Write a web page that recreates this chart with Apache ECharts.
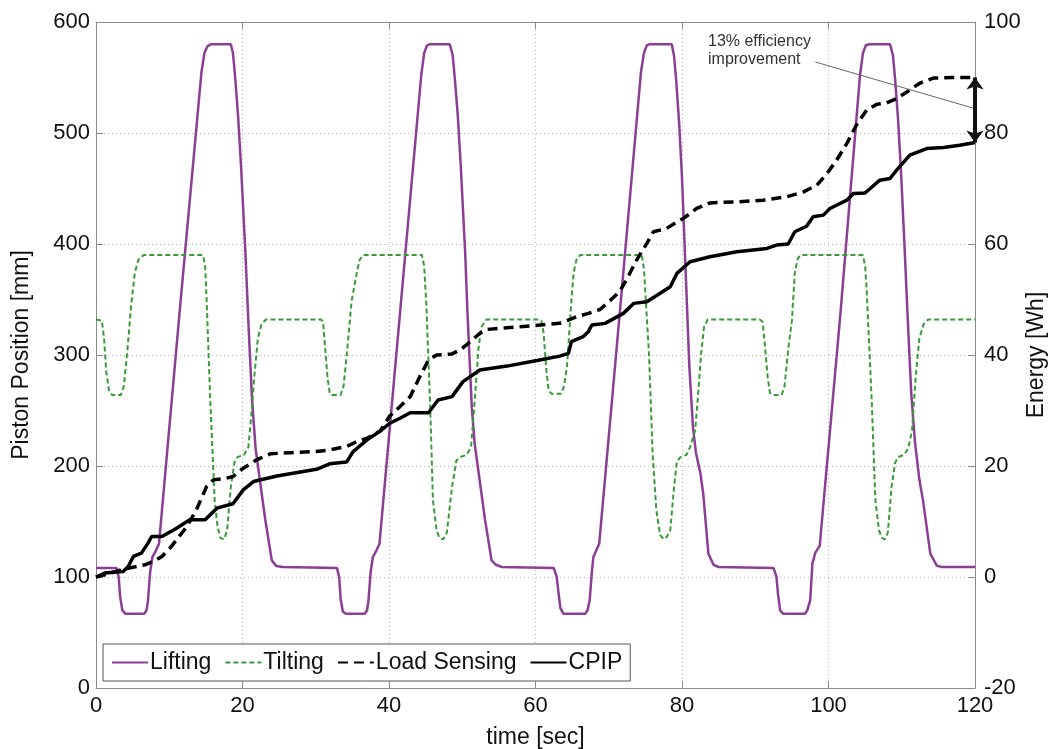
<!DOCTYPE html>
<html>
<head>
<meta charset="utf-8">
<script src="https://cdn.jsdelivr.net/npm/echarts@6/dist/echarts.min.js"></script>
<style>
html,body{margin:0;padding:0;background:#fff;}
#chart{width:1050px;height:749px;}
</style>
</head>
<body>
<div id="chart"></div>
<script>
// ---- Data (time [sec], value) ----
const xTicks = [0, 20, 40, 60, 80, 100, 120];
const leftTicks = [0, 100, 200, 300, 400, 500, 600];
const rightTicks = [-20, 0, 20, 40, 60, 80, 100];

// Lifting piston position [mm]
const lifting = [
  [0,108],[2.8,108],[3.1,100],[3.3,82],[3.6,70],[4.0,67],[6.6,67],[6.9,70],[7.1,79],[7.4,105],[7.7,118],[8.2,124],[8.6,130],
  [11.5,345],[14.4,555],[14.8,572],[15.2,578],[15.7,580],[18.4,580],[18.7,572],[19.0,550],
  [19.4,515],[19.8,470],[20.4,392],[20.8,330],[21.3,260],[21.8,215],[22.4,186],[23.1,152],[24.0,115],[24.6,110],[25.5,109],
  [32.9,108],[33.2,100],[33.4,80],[33.7,69],[34.1,67],[36.7,67],[37.0,70],[37.2,79],[37.5,105],[37.8,118],[38.3,124],[38.7,130],
  [41.6,345],[44.4,552],[44.8,572],[45.2,579],[45.6,580],[48.3,580],[48.7,570],[49.0,548],
  [49.4,515],[49.8,470],[50.4,392],[50.7,340],[51.3,253],[51.7,220],[52.4,186],[53.1,152],[54.0,115],[54.6,111],[55.4,109],
  [62.5,108],[62.9,100],[63.1,88],[63.4,72],[63.8,67],[66.8,67],[67.1,70],[67.4,79],[67.7,105],[67.9,118],[68.3,124],[68.7,130],
  [71.6,345],[74.4,555],[74.8,572],[75.2,579],[75.6,580],[78.6,580],[78.9,570],[79.2,548],
  [79.6,510],[80.0,460],[80.5,375],[81.0,290],[81.5,235],[81.9,212],[82.5,194],[82.9,175],[83.6,121],[84.3,111],[85.0,109],
  [92.5,108],[92.9,100],[93.1,85],[93.4,70],[93.8,67],[96.8,67],[97.1,70],[97.5,79],[97.8,112],[98.2,122],[98.8,128],
  [101.6,335],[104.3,552],[104.7,572],[105.1,579],[105.6,580],[108.4,580],
  [108.8,570],[109.1,548],[109.5,512],[109.9,465],[110.4,395],[110.8,335],[111.3,265],[111.8,222],[112.4,188],[112.9,169],
  [113.9,121],[114.8,110],[115.5,109],[120,109]
];

// Tilting piston position [mm]
const tilting = [
  [0,332],[0.8,331],[1.1,315],[1.4,285],[1.8,267],[2.2,264],[3.4,264],[3.8,272],[4.3,305],[4.8,345],[5.3,374],[5.8,386],[6.5,390],
  [14.6,390],[14.9,380],[15.1,350],[15.6,259],[16.2,169],[16.6,145],[17.0,135],[17.5,134],[17.9,142],[18.4,181],[18.9,203],
  [19.3,208],[20.2,210],[20.8,217],[21.2,245],[21.6,280],[22.1,315],[22.6,328],[23.2,332],
  [30.7,332],[31.0,330],[31.3,305],[31.6,280],[31.9,266],[32.2,264],[33.4,264],[33.8,272],[34.3,305],[34.9,349],[35.6,374],
  [36.0,386],[36.5,390],[44.5,390],[44.8,380],[45.1,345],[45.6,259],[46.0,169],[46.5,142],[46.9,135],[47.4,134],[47.9,140],
  [48.6,181],[49.2,205],[49.7,208],[50.6,210],[51.2,217],[51.7,259],[52.2,305],[52.6,325],[53.3,332],
  [60.3,332],[60.8,331],[61.1,320],[61.5,285],[61.8,268],[62.2,265],[63.5,265],[63.9,272],[64.3,290],[64.9,349],[65.2,374],
  [65.6,386],[66.1,390],[74.5,390],[74.8,378],[75.1,345],[75.5,300],[76.0,210],[76.5,160],[77.0,138],[77.5,134],[77.9,136],
  [78.4,142],[78.9,180],[79.3,204],[79.8,208],[80.6,210],[81.1,217],[81.8,232],[82.2,265],[82.6,300],[83.0,325],[83.5,332],
  [90.6,332],[91.0,330],[91.3,310],[91.7,280],[92.0,266],[92.4,264],[93.6,264],[94.0,272],[94.5,305],[95.0,331],[95.4,374],
  [95.8,387],[96.2,390],[104.7,390],[105.0,380],[105.2,360],[105.4,331],[105.9,259],[106.4,169],[106.9,142],[107.3,135],
  [107.7,134],[108.1,140],[108.6,181],[109.1,203],[109.5,208],[110.3,210],[110.9,216],[111.4,232],[111.9,280],[112.4,315],
  [113.0,328],[113.6,332],[120,332]
];

// Load Sensing energy [Wh]
const loadSensing = [
  [0,0],[1.2,0.4],[3.7,1.4],[6.7,2.2],[7.8,2.8],[9.0,3.7],[10.1,5.2],[11.0,6.7],[12.4,9.1],[13.7,12.1],[15.1,16.3],[16.0,17.5],
  [17.8,17.8],[18.7,18.1],[20.1,19.6],[21.9,21.1],[23.8,22.2],[26.5,22.4],[30.1,22.6],[31.9,22.9],[34.2,23.5],[35.6,24.4],
  [37.0,25.0],[38.8,26.3],[40.1,29.0],[41.5,30.7],[42.9,32.5],[44.2,36.1],[45.4,39.1],[46.5,40.0],[48.6,40.2],[49.7,40.9],
  [51.1,42.4],[52.4,43.9],[53.3,44.6],[57.9,45.1],[63.3,45.7],[64.3,46.2],[65.6,46.9],[67.0,47.4],[68.8,48.2],[70.2,49.8],
  [71.5,51.5],[72.4,53.5],[73.8,57.1],[75.2,60.1],[76.1,62.2],[77.9,62.8],[79.7,64.3],[80.2,64.6],[82.0,66.4],[83.8,67.4],
  [87.5,67.6],[91.1,67.9],[94.3,68.5],[96.6,69.4],[98.4,70.6],[99.8,72.7],[101.1,75.1],[102.5,78.1],[103.8,81.4],[105.2,84.1],
  [106.6,85.2],[107.9,85.4],[109.3,86.2],[110.7,87.4],[112.5,89.0],[114.3,89.9],[117.0,90.0],[120,90.0]
];

// CPIP energy [Wh]
const cpip = [
  [0,0],[1.2,0.7],[3.7,1.0],[4.4,1.9],[5.1,3.7],[6.2,4.3],[7.1,6.1],[7.6,7.3],[9.0,7.3],[11.0,8.8],[12.8,10.3],[14.9,10.3],
  [16.5,12.4],[18.7,13.2],[20.1,15.7],[21.5,17.2],[24.7,18.2],[30.1,19.4],[31.9,20.4],[34.2,20.7],[35.1,22.6],[37.0,24.7],
  [38.8,26.3],[40.1,27.7],[41.5,28.6],[42.9,29.6],[45.4,29.6],[46.7,31.9],[48.6,32.5],[50.1,35.2],[52.4,37.3],[56.1,38.0],
  [60.2,39.0],[63.3,39.8],[64.5,40.3],[64.9,42.4],[66.5,43.3],[67.2,44.2],[67.7,45.4],[69.5,45.7],[72.0,47.5],[73.4,49.3],
  [75.2,49.6],[78.4,52.3],[79.3,54.7],[81.1,56.8],[83.8,57.7],[87.5,58.6],[91.6,59.2],[92.9,59.8],[94.5,60.0],[95.4,62.2],
  [97.0,63.2],[97.9,64.9],[99.3,65.2],[100.2,66.4],[102.5,67.9],[103.4,69.1],[105.0,69.2],[105.7,70.0],[107.0,71.5],
  [108.4,71.8],[109.3,73.3],[111.1,76.0],[113.4,77.2],[115.7,77.4],[117.9,77.8],[120,78.3]
];

// Annotation
const annotationText = "13% efficiency\nimprovement";
const arrowEnds = [[120, 90.0], [120, 78.3]];
const pointerLine = [[98.2, 92.8], [119.7, 84.5]];

// ---- Chart ----
const FONT = "Liberation Sans, Arial, sans-serif";
const chart = echarts.init(document.getElementById('chart'), null, {renderer: 'canvas'});
const axisGrey = '#8a8a8a';

const option = {
  backgroundColor: '#ffffff',
  animation: false,
  textStyle: {fontFamily: FONT},
  grid: {left: 96, right: 75, top: 22, bottom: 61, containLabel: false, outerBoundsMode: 'none'},
  legend: {
    data: ['Lifting', 'Tilting', 'Load Sensing', 'CPIP'],
    left: 103, top: 644,
    itemWidth: 36, itemHeight: 12, itemGap: 13,
    padding: [7, 8, 7, 8],
    borderColor: '#555', borderWidth: 1, backgroundColor: '#fff',
    itemStyle: {opacity: 0},
    textStyle: {fontSize: 23, color: '#111', fontFamily: FONT, padding: [0, 0, 0, -3]}
  },
  xAxis: [{
    type: 'value', min: xTicks[0], max: xTicks[xTicks.length - 1], interval: 20,
    name: 'time [sec]', nameLocation: 'middle', nameGap: 38, nameMoveOverlap: false,
    nameTextStyle: {fontSize: 23, color: '#111', fontFamily: FONT},
    axisLine: {show: true, onZero: false, lineStyle: {color: axisGrey, width: 1}},
    axisTick: {show: true, inside: true, length: 7, lineStyle: {color: axisGrey}},
    axisLabel: {fontSize: 22, color: '#111', margin: 7, fontFamily: FONT},
    splitLine: {show: true, lineStyle: {color: '#b5b5b5', type: [1, 3], width: 1}}
  }, {
    type: 'value', position: 'top', min: xTicks[0], max: xTicks[xTicks.length - 1], interval: 20,
    axisLine: {show: true, onZero: false, lineStyle: {color: axisGrey, width: 1}},
    axisTick: {show: true, inside: true, length: 7, lineStyle: {color: axisGrey}},
    axisLabel: {show: false}, splitLine: {show: false}
  }],
  yAxis: [{
    type: 'value', min: leftTicks[0], max: leftTicks[leftTicks.length - 1], interval: 100,
    name: 'Piston Position [mm]', nameLocation: 'middle', nameGap: 63,
    nameTextStyle: {fontSize: 23, color: '#111', fontFamily: FONT},
    axisLine: {show: true, onZero: false, lineStyle: {color: axisGrey, width: 1}},
    axisTick: {show: true, inside: true, length: 7, lineStyle: {color: axisGrey}},
    axisLabel: {fontSize: 22, color: '#111', margin: 6, fontFamily: FONT},
    splitLine: {show: true, lineStyle: {color: '#b5b5b5', type: [1, 3], width: 1}}
  }, {
    type: 'value', position: 'right', min: rightTicks[0], max: rightTicks[rightTicks.length - 1], interval: 20,
    name: 'Energy [Wh]', nameLocation: 'middle', nameGap: 50, nameMoveOverlap: false,
    nameTextStyle: {fontSize: 23, color: '#111', fontFamily: FONT},
    axisLine: {show: true, onZero: false, lineStyle: {color: axisGrey, width: 1}},
    axisTick: {show: true, inside: true, length: 7, lineStyle: {color: axisGrey}},
    axisLabel: {fontSize: 22, color: '#111', margin: 9, fontFamily: FONT},
    splitLine: {show: false}
  }],
  graphic: [{
    type: 'text', left: 708, top: 33, silent: true,
    style: {text: annotationText, font: '16px ' + FONT, fill: '#333', lineHeight: 18}
  }],
  series: [{
    name: 'Lifting', type: 'line', xAxisIndex: 0, yAxisIndex: 0, data: lifting,
    showSymbol: false, symbol: 'none', smooth: false,
    lineStyle: {color: '#8c3d96', width: 2.5}, itemStyle: {color: '#8c3d96'}
  }, {
    name: 'Tilting', type: 'line', xAxisIndex: 0, yAxisIndex: 0, data: tilting,
    showSymbol: false, symbol: 'none',
    lineStyle: {color: '#3a9a3a', width: 2, type: [5, 3]}, itemStyle: {color: '#3a9a3a'}
  }, {
    name: 'Load Sensing', type: 'line', xAxisIndex: 0, yAxisIndex: 1, data: loadSensing,
    showSymbol: false, symbol: 'none',
    lineStyle: {color: '#000', width: 3.5, type: [10, 6]}, itemStyle: {color: '#000'},
    markLine: {
      silent: true, animation: false, label: {show: false},
      data: [
        [{coord: pointerLine[0], symbol: 'none', lineStyle: {color: '#666', width: 1, type: 'solid'}},
         {coord: pointerLine[1], symbol: 'none'}],
        [{coord: arrowEnds[0], symbol: 'arrow', symbolSize: [13, 12], lineStyle: {color: '#111', width: 4, type: 'solid'}},
         {coord: arrowEnds[1], symbol: 'arrow', symbolSize: [13, 12]}]
      ]
    }
  }, {
    name: 'CPIP', type: 'line', xAxisIndex: 0, yAxisIndex: 1, data: cpip,
    showSymbol: false, symbol: 'none',
    lineStyle: {color: '#000', width: 3.5}, itemStyle: {color: '#000'}
  }]
};
chart.setOption(option);
</script>
</body>
</html>
